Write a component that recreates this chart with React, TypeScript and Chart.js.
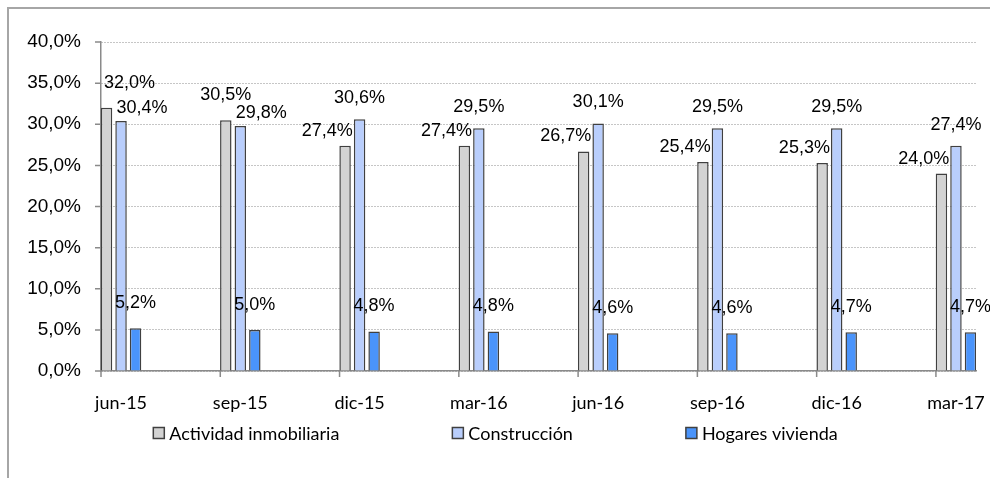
import React, { useEffect, useRef } from 'react';
import { Chart, registerables } from 'chart.js';

Chart.register(...registerables);

// ---- data ----
const categories = ['jun-15', 'sep-15', 'dic-15', 'mar-16', 'jun-16', 'sep-16', 'dic-16', 'mar-17'];
const seriesNames = ['Actividad inmobiliaria', 'Construcción', 'Hogares vivienda'];
const actividad = [32.0, 30.5, 27.4, 27.4, 26.7, 25.4, 25.3, 24.0];
const construccion = [30.4, 29.8, 30.6, 29.5, 30.1, 29.5, 29.5, 27.4];
const hogares = [5.2, 5.0, 4.8, 4.8, 4.6, 4.6, 4.7, 4.7];
const yMin = 0;
const yMax = 40;
const yStep = 5;

// ---- style ----
const COLORS = ['#d3d3d3', '#b9cefc', '#4a94fb'];
const BAR_BORDER = '#404040';
const AXIS = '#8a8a8a';
const GRID = '#8c8c8c';
const GROUP_HALF = 0.168;
const NUM_FONT = '"Liberation Sans", Arial, sans-serif';
const CAT_FONT = 'Lato, "Open Sans", sans-serif';
const LEGEND_GAP = 113;
const LEGEND_SHIFT = -3;
const LEGEND_Y = 426;
const W = 983;
const H = 471;

const fmt = (v: number) => v.toFixed(1).replace('.', ',') + '%';

const decor = {
  id: 'decor',
  afterDatasetsDraw(chart: any) {
    const ctx: CanvasRenderingContext2D = chart.ctx;
    const { left, bottom } = chart.chartArea;
    const xs = chart.scales.x;
    const ys = chart.scales.y;
    ctx.save();
    // tick marks
    ctx.strokeStyle = AXIS;
    ctx.lineWidth = 1.5;
    ctx.beginPath();
    ys.ticks.forEach((t: any) => {
      const py = ys.getPixelForValue(t.value);
      ctx.moveTo(left - 6, py);
      ctx.lineTo(left, py);
    });
    categories.forEach((_, i) => {
      const px = xs.getPixelForValue(i - GROUP_HALF);
      ctx.moveTo(px, bottom);
      ctx.lineTo(px, bottom + 6);
    });
    ctx.stroke();

    // data labels
    ctx.font = '18px ' + NUM_FONT;
    ctx.fillStyle = '#000';
    ctx.textBaseline = 'middle';
    const m0 = chart.getDatasetMeta(0).data;
    const m1 = chart.getDatasetMeta(1).data;
    const m2 = chart.getDatasetMeta(2).data;
    categories.forEach((_, i) => {
      const g = m0[i].getProps(['x', 'y', 'width'], true);
      const c = m1[i].getProps(['x', 'y', 'width'], true);
      const h = m2[i].getProps(['x', 'y', 'width'], true);
      const grayTaller = actividad[i] > construccion[i];
      // gray series label
      const gText = fmt(actividad[i]);
      if (grayTaller) {
        const w = ctx.measureText(gText).width;
        const cx = Math.max(g.x, left + 3 + w / 2);
        ctx.textAlign = 'center';
        ctx.fillText(gText, cx, g.y - 25);
      } else {
        ctx.textAlign = 'right';
        ctx.fillText(gText, g.x + g.width / 2 + 2, g.y - 15);
      }
      // light blue series label
      ctx.textAlign = 'center';
      if (grayTaller) {
        ctx.fillText(fmt(construccion[i]), c.x + 21, c.y - 13);
      } else {
        ctx.fillText(fmt(construccion[i]), c.x, c.y - 21);
      }
      // blue series label
      ctx.fillText(fmt(hogares[i]), h.x, h.y - 25);
    });
    ctx.restore();
  },
  afterDraw(chart: any) {
    const ctx: CanvasRenderingContext2D = chart.ctx;
    ctx.save();
    ctx.font = '18px ' + CAT_FONT;
    ctx.textBaseline = 'middle';
    ctx.textAlign = 'left';
    const box = 11;
    const gapText = 5;
    const widths = seriesNames.map((n) => box + gapText + ctx.measureText(n).width);
    const total = widths.reduce((a, b) => a + b, 0) + LEGEND_GAP * (seriesNames.length - 1);
    let x = chart.width / 2 - total / 2 + LEGEND_SHIFT;
    seriesNames.forEach((n, i) => {
      ctx.fillStyle = COLORS[i];
      ctx.fillRect(x, LEGEND_Y - box / 2, box, box);
      ctx.strokeStyle = BAR_BORDER;
      ctx.lineWidth = 1.5;
      ctx.strokeRect(x, LEGEND_Y - box / 2, box, box);
      ctx.fillStyle = '#000';
      ctx.fillText(n, x + box + gapText, LEGEND_Y + 1);
      x += widths[i] + LEGEND_GAP;
    });
    ctx.restore();
  },
};

export default function App() {
  const ref = useRef<HTMLCanvasElement | null>(null);

  useEffect(() => {
    if (!ref.current) return;
    const series = [actividad, construccion, hogares];
    const chart = new Chart(ref.current, {
      type: 'bar',
      data: {
        datasets: series.map((vals, di) => ({
          label: seriesNames[di],
          data: vals.map((v, i) => ({ x: i, y: v })),
          backgroundColor: COLORS[di],
          borderColor: BAR_BORDER,
          borderWidth: 1.5,
          categoryPercentage: 0.365,
          barPercentage: 0.79,
        })),
      },
      options: {
        responsive: false,
        animation: false,
        devicePixelRatio: 1,
        layout: { padding: { top: 35, right: 14, bottom: 47, left: 0 } },
        plugins: {
          legend: { display: false },
          tooltip: { enabled: false },
          title: { display: false },
        },
        scales: {
          x: {
            type: 'linear',
            position: 'bottom',
            min: -GROUP_HALF,
            max: categories.length - 1 + GROUP_HALF,
            offset: false,
            grid: { display: false, offset: false },
            border: { display: true, color: AXIS, width: 1.5 },
            ticks: {
              font: { family: CAT_FONT, size: 18 },
              color: '#000',
              padding: 13,
              autoSkip: false,
              maxRotation: 0,
              callback: (v: any) => categories[v as number] ?? '',
            },
            afterBuildTicks: (s: any) => {
              s.ticks = categories.map((_, i) => ({ value: i }));
            },
            afterFit: (s: any) => {
              s.height = 60;
              s.paddingLeft = 0;
              s.paddingRight = 0;
            },
          } as any,
          y: {
            type: 'linear',
            min: yMin,
            max: yMax,
            ticks: {
              stepSize: yStep,
              font: { family: NUM_FONT, size: 19 },
              color: '#000',
              padding: 20,
              callback: (v: any) => fmt(v as number),
            },
            grid: { color: GRID, lineWidth: 1, drawTicks: false },
            border: { display: true, color: AXIS, width: 1.5, dash: [1, 2] },
            afterFit: (s: any) => {
              s.width = 94;
              s.paddingTop = 0;
              s.paddingBottom = 0;
            },
          } as any,
        },
      },
      plugins: [decor],
    });
    return () => chart.destroy();
  }, []);

  return (
    <div style={{ position: 'fixed', left: 7, top: 7, width: W, height: H, overflow: 'hidden' }}>
      <canvas ref={ref} width={W} height={H} style={{ display: 'block' }} />
      <div
        style={{
          position: 'absolute',
          left: 0,
          top: 0,
          width: W,
          height: H,
          borderTop: '2px solid #a6a6a6',
          borderLeft: '2px solid #a6a6a6',
          boxSizing: 'border-box',
          pointerEvents: 'none',
        }}
      />
    </div>
  );
}
